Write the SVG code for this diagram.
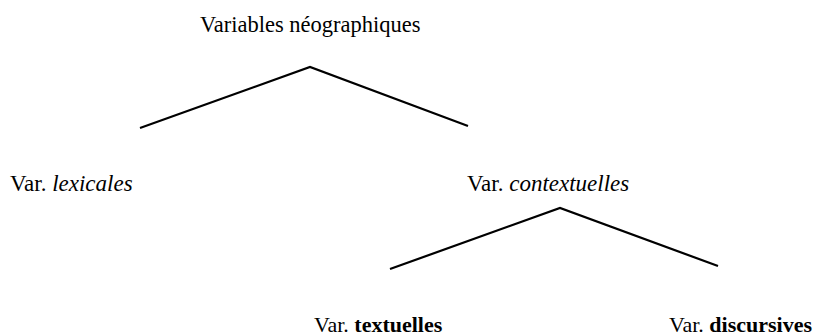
<svg xmlns="http://www.w3.org/2000/svg" width="813" height="336" viewBox="0 0 813 336">
  <style>
    text { font-family: "Liberation Serif", "Times New Roman", serif; font-size: 22px; fill: #000; }
    .top { font-size: 22.5px; }
    .mid { font-size: 23px; }
    .branch { fill: none; stroke: #000; stroke-width: 2.2; stroke-linejoin: miter; }
    .b { font-weight: bold; }
    .i { font-style: italic; }
  </style>
  <rect width="813" height="336" fill="#fff"/>
  <g id="connectors">
    <polyline class="branch" points="140,128 310,67 468,126"/>
    <polyline class="branch" points="390,269 560,208 718,266"/>
  </g>
  <g id="root">
    <text class="top" x="200" y="32">Variables néographiques</text>
  </g>
  <g id="lexicales">
    <text class="mid" x="10" y="191">Var. <tspan class="i">lexicales</tspan></text>
  </g>
  <g id="contextuelles">
    <text class="mid" x="467" y="191">Var. <tspan class="i">contextuelles</tspan></text>
  </g>
  <g id="textuelles">
    <text x="314" y="332">Var. <tspan class="b">textuelles</tspan></text>
  </g>
  <g id="discursives">
    <text x="669" y="332">Var. <tspan class="b">discursives</tspan></text>
  </g>
</svg>
